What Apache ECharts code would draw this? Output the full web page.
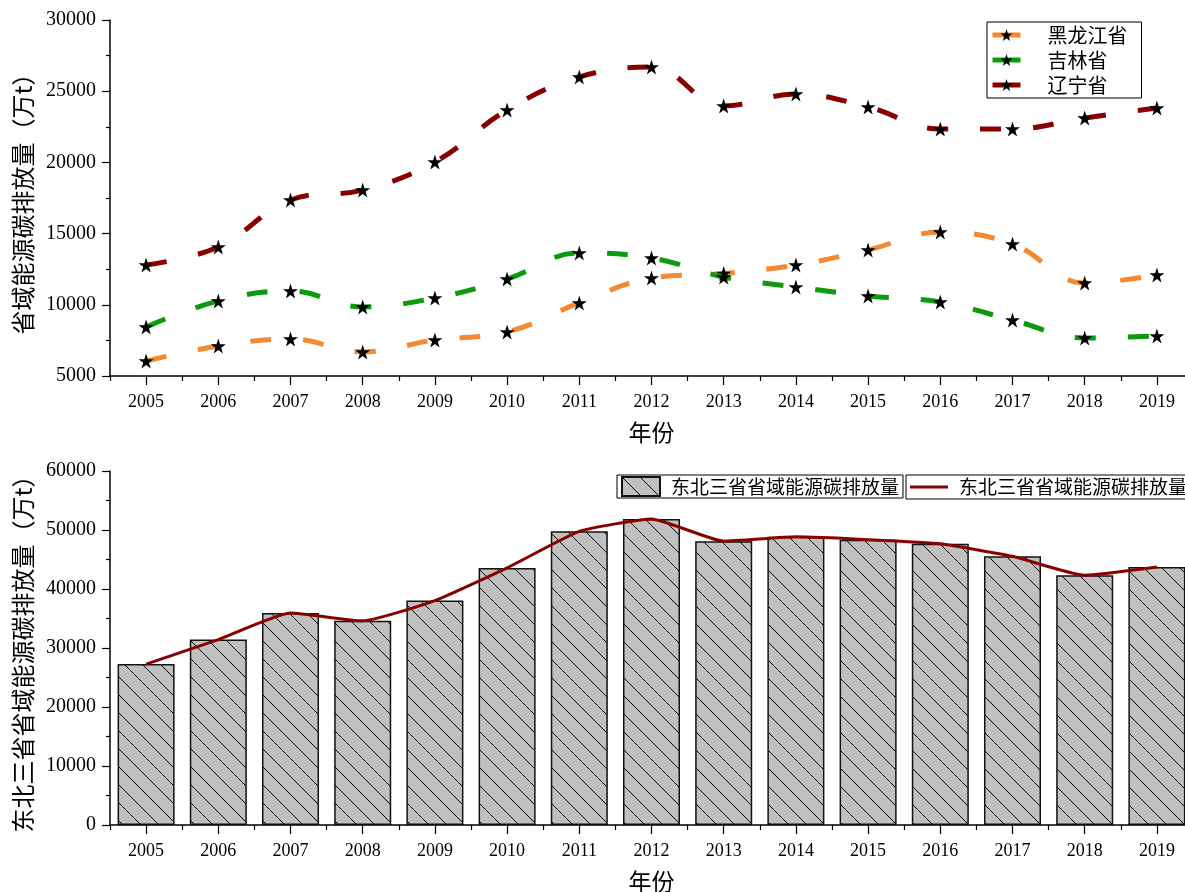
<!DOCTYPE html>
<html>
<head>
<meta charset="utf-8">
<script src="https://cdn.jsdelivr.net/npm/echarts@6/dist/echarts.min.js"></script>
<style>
  html, body { margin: 0; padding: 0; background: #fff; overflow: hidden; }
  #chart { width: 1185px; height: 892px; }
</style>
</head>
<body>
<div id="chart"></div>
<script>
// Years on the horizontal axis
const years = ['2005','2006','2007','2008','2009','2010','2011','2012','2013','2014','2015','2016','2017','2018','2019'];

// Provincial energy carbon emissions (10k t)
const heilongjiang = [6050, 7100, 7600, 6690, 7530, 8090, 10130, 11880, 12200, 12790, 13850, 15110, 14270, 11530, 12090];
const jilin        = [8440, 10270, 10970, 9850, 10480, 11810, 13640, 13290, 11950, 11250, 10620, 10200, 8930, 7670, 7810];
const liaoning     = [12790, 14060, 17360, 18060, 20030, 23680, 26000, 26700, 23960, 24800, 23890, 22340, 22340, 23120, 23820];

// Three-province total per year
const total = years.map((_, i) => heilongjiang[i] + jilin[i] + liaoning[i]);

const provinceNames = ['黑龙江省', '吉林省', '辽宁省'];
const totalLabel = '东北三省省域能源碳排放量';

const serif = '"Liberation Serif", "DejaVu Serif", serif';
const cjk = '"Noto Sans CJK SC", "Noto Sans", sans-serif';

const star = 'path://M50,0 L61.2,34.5 L97.6,34.5 L68.2,55.9 L79.4,90.5 L50,69.1 L20.6,90.5 L31.8,55.9 L2.4,34.5 L38.8,34.5 Z';

// Grey fill with "\" hatching for the total bars
const tile = document.createElement('canvas');
tile.width = 18; tile.height = 18;
const tctx = tile.getContext('2d');
tctx.fillStyle = '#c0c0c0';
tctx.fillRect(0, 0, 18, 18);
tctx.strokeStyle = '#000';
tctx.lineWidth = 1;
tctx.beginPath();
[-18, 0, 18].forEach(k => { tctx.moveTo(k, 0); tctx.lineTo(k + 18, 18); });
tctx.stroke();
const hatch = { image: tile, repeat: 'repeat' };

function catAxis(gridIndex) {
  return [
    {
      type: 'category', gridIndex, data: years, boundaryGap: true,
      axisLine: { lineStyle: { color: '#000', width: 1.5 } },
      axisTick: { show: true, alignWithLabel: false, length: 5, lineStyle: { color: '#000', width: 1.2 } },
      axisLabel: { show: false },
      name: '年份', nameLocation: 'middle', nameGap: 45,
      nameTextStyle: { fontFamily: cjk, fontSize: 23, color: '#000' }
    },
    {
      type: 'category', gridIndex, data: years, boundaryGap: true, position: 'bottom',
      axisLine: { show: false },
      axisTick: { show: true, alignWithLabel: true, length: 9, lineStyle: { color: '#000', width: 1.2 } },
      axisLabel: { show: true, fontFamily: serif, fontSize: 18, color: '#000', margin: 17 }
    }
  ];
}

function valAxis(gridIndex, min, max, interval, name) {
  return {
    type: 'value', gridIndex, min, max, interval,
    axisLine: { show: true, lineStyle: { color: '#000', width: 1.5 } },
    axisTick: { show: true, length: 8, lineStyle: { color: '#000', width: 1.2 } },
    minorTick: { show: true, splitNumber: 2, length: 4, lineStyle: { color: '#000', width: 1.2 } },
    splitLine: { show: false },
    axisLabel: { fontFamily: serif, fontSize: 20, color: '#000', margin: 14, formatter: v => String(v) },
    name, nameLocation: 'middle', nameGap: 68, nameRotate: 90,
    nameTextStyle: { fontFamily: cjk, fontSize: 24, color: '#000' }
  };
}

const provinceColors = ['#F28A35', '#0E9A0E', '#880000'];
const provinceData = [heilongjiang, jilin, liaoning];

const provinceSeries = provinceNames.map((n, i) => ({
  name: n, type: 'line', xAxisIndex: 0, yAxisIndex: 0,
  data: provinceData[i], smooth: 0.4,
  symbol: star, symbolSize: 15,
  itemStyle: { color: '#000' },
  lineStyle: { color: provinceColors[i], width: 5, type: [21, 32], cap: 'butt' },
  z: 2 + i
}));

const chart = echarts.init(document.getElementById('chart'), null, { renderer: 'canvas' });
chart.setOption({
  animation: false,
  backgroundColor: '#fff',
  grid: [
    { left: 110, top: 20, width: 1083, height: 356, outerBoundsMode: 'none', containLabel: false },
    { left: 110, top: 471, width: 1083, height: 354, outerBoundsMode: 'none', containLabel: false }
  ],
  xAxis: [...catAxis(0), ...catAxis(1)],
  yAxis: [
    valAxis(0, 5000, 30000, 5000, '省域能源碳排放量（万t）'),
    valAxis(1, 0, 60000, 10000, '东北三省省域能源碳排放量（万t）')
  ],
  legend: [
    {
      data: provinceNames, orient: 'vertical', left: 987, top: 22,
      width: 150, itemGap: 5, itemWidth: 28, itemHeight: 15,
      padding: [3, 14, 3, 3], borderColor: '#000', borderWidth: 1,
      lineStyle: { type: 'solid', width: 5 },
      textStyle: { fontFamily: cjk, fontSize: 20, color: '#000', padding: [0, 0, 0, 22] }
    },
    {
      data: [{ name: '总量柱', icon: 'rect' }], left: 617, top: 475, itemWidth: 38, itemHeight: 19,
      padding: [1, 4, 1, 4], borderColor: '#000', borderWidth: 1,
      formatter: () => totalLabel,
      textStyle: { fontFamily: cjk, fontSize: 19, color: '#000', padding: [0, 0, 0, 6] }
    },
    {
      data: [{ name: '总量线', icon: 'rect' }], left: 906, top: 475, itemWidth: 38, itemHeight: 3,
      padding: [1, 4, 1, 4], borderColor: '#000', borderWidth: 1,
      formatter: () => totalLabel,
      textStyle: { fontFamily: cjk, fontSize: 19, color: '#000', padding: [0, 0, 0, 6], lineHeight: 22 }
    }
  ],
  series: [
    ...provinceSeries,
    {
      name: '总量柱', type: 'bar', xAxisIndex: 2, yAxisIndex: 1,
      data: total, barWidth: '79%',
      itemStyle: { color: hatch, borderColor: '#111', borderWidth: 1.5 }
    },
    {
      name: '总量线', type: 'line', xAxisIndex: 2, yAxisIndex: 1,
      data: total, smooth: 0.15, showSymbol: false, symbol: 'none',
      lineStyle: { color: '#880000', width: 3 },
      itemStyle: { color: '#880000' },
      z: 5
    }
  ]
});
</script>
</body>
</html>
